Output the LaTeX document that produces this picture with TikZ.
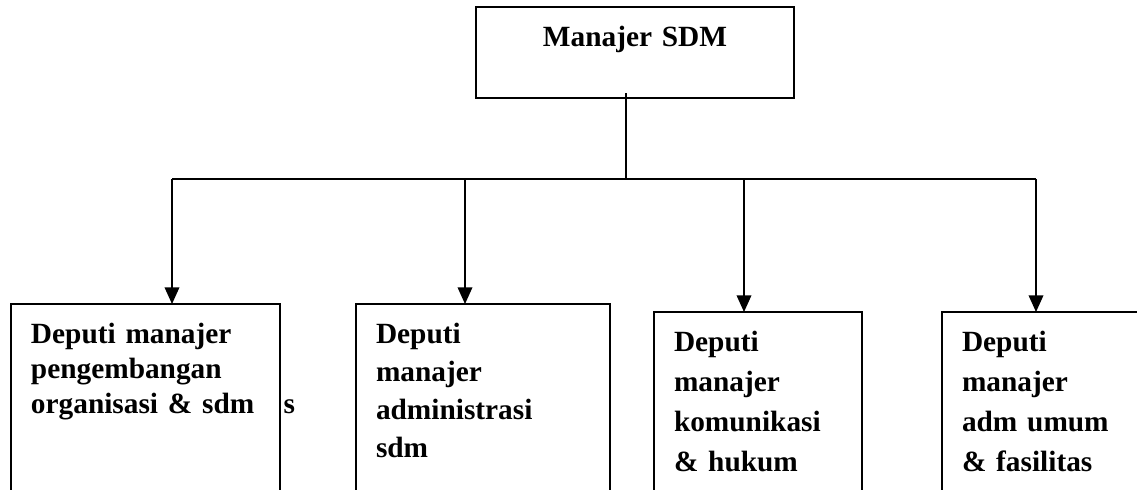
\documentclass[tikz,border=0pt]{standalone}
\usepackage{fontspec}
\setmainfont{Liberation Serif}
\usetikzlibrary{arrows.meta,positioning}

\begin{document}
\begin{tikzpicture}[x=0.75pt,y=-0.75pt,
    >={Triangle[length=12.5pt,width=11pt]},
    line width=1.1pt,
    kotak/.style={draw, anchor=north west, outer sep=0pt, inner xsep=15pt,
      inner ysep=0pt, text height=29.5pt},
    deputi/.style={kotak, align=left, text depth=160pt,
      font=\fontsize{22pt}{#1}\selectfont\bfseries}]
  \useasboundingbox (0,0) rectangle (1137,489);
  \clip (0,0) rectangle (1137,489);   %boxes run off the bottom

  \node[kotak, align=center, minimum width=238.5pt, text width=208.5pt,
    text depth=38.75pt, font=\fontsize{22pt}{26pt}\selectfont\bfseries]
    (manajer) at (476,7) {Manajer SDM};   %Top box

  \node[deputi=26.25pt, text width=171.75pt] (dep1) at (11,304)
    {Deputi manajer\\pengembangan\\organisasi \& sdm};
  \node[anchor=base west, inner sep=0pt, font=\fontsize{22pt}{26pt}\selectfont\bfseries]
    (sisa) at (283,413) {s};
  \node[deputi=28.5pt, text width=160.5pt] (dep2) at (356,304)
    {Deputi\\manajer\\administrasi\\sdm};
  \node[deputi=30pt, text width=126pt] (dep3) at (654,312)
    {Deputi\\manajer\\komunikasi\\\& hukum};
  \node[deputi=30pt, text width=135pt] (dep4) at (942,312)
    {Deputi\\manajer\\adm umum\\\& fasilitas};

  \coordinate (bus) at (626,179);   %branch point
  \coordinate (b1) at (172,179);
  \coordinate (b2) at (465,179);
  \coordinate (b3) at (744,179);
  \coordinate (b4) at (1036,179);

  \draw ([yshift=3.75pt]manajer.south -| bus) -- (bus);   %stem
  \draw (b1) -- (b4);   %bus line
  \draw[->] (b1) -- (b1 |- dep1.north);
  \draw[->] (b2) -- (b2 |- dep2.north);
  \draw[->] (b3) -- (b3 |- dep3.north);
  \draw[->] (b4) -- (b4 |- dep4.north);
\end{tikzpicture}
\end{document}
